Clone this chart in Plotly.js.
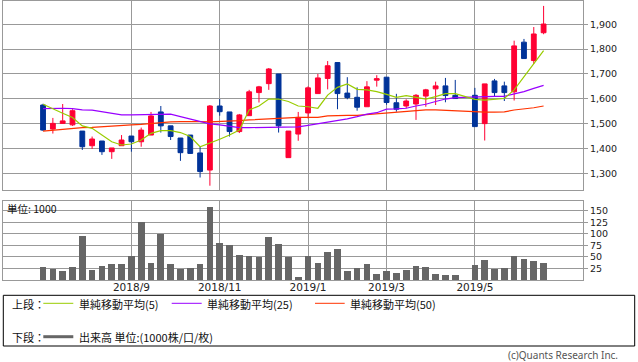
<!DOCTYPE html>
<html>
<head>
<meta charset="utf-8">
<script src="https://cdn.plot.ly/plotly-3.0.1.min.js"></script>
<style>html,body{margin:0;padding:0;background:#fff;}#chart{width:638px;height:362px;}</style>
</head>
<body>
<div id="chart"></div>
<script>
// Weekly dates (week of Apr 29, 2019 had no trading)
const weeks = [
 "2018-07-02","2018-07-09","2018-07-16","2018-07-23","2018-07-30","2018-08-06","2018-08-13","2018-08-20","2018-08-27",
 "2018-09-03","2018-09-10","2018-09-17","2018-09-24","2018-10-01","2018-10-08","2018-10-15","2018-10-22","2018-10-29",
 "2018-11-05","2018-11-12","2018-11-19","2018-11-26","2018-12-03","2018-12-10","2018-12-17","2018-12-24","2018-12-31",
 "2019-01-07","2019-01-14","2019-01-21","2019-01-28","2019-02-04","2019-02-11","2019-02-18","2019-02-25",
 "2019-03-04","2019-03-11","2019-03-18","2019-03-25","2019-04-01","2019-04-08","2019-04-15","2019-04-22",
 "2019-05-06","2019-05-13","2019-05-20","2019-05-27","2019-06-03","2019-06-10","2019-06-17","2019-06-24"
];
const openP  = [1575,1478,1501,1495,1470,1411,1430,1387,1411,1450,1427,1454,1547,1491,1442,1454,1382,1313,1571,1547,1468,1532,1625,1661,1700,1363,1458,1543,1621,1682,1746,1623,1606,1568,1675,1687,1584,1571,1579,1611,1640,1652,1614,1614,1500,1672,1652,1628,1828,1754,1866];
const highP  = [1580,1523,1579,1558,1470,1448,1430,1402,1454,1450,1484,1547,1571,1491,1442,1454,1407,1575,1599,1547,1539,1636,1652,1724,1700,1470,1547,1650,1700,1752,1746,1687,1646,1671,1695,1687,1620,1598,1619,1640,1669,1684,1676,1644,1660,1680,1669,1834,1841,1889,1974];
const lowP   = [1470,1460,1500,1491,1394,1398,1374,1358,1411,1387,1407,1454,1464,1434,1350,1378,1283,1250,1532,1448,1462,1532,1585,1636,1464,1363,1431,1521,1621,1638,1558,1598,1552,1568,1649,1576,1548,1562,1515,1568,1575,1586,1601,1488,1432,1611,1591,1593,1762,1740,1860];
const closeP = [1474,1501,1511,1552,1407,1438,1387,1402,1434,1427,1474,1531,1491,1448,1383,1380,1307,1571,1548,1468,1535,1628,1648,1720,1491,1470,1525,1644,1684,1733,1621,1605,1566,1648,1681,1585,1558,1591,1614,1636,1652,1613,1601,1488,1660,1625,1625,1813,1762,1861,1901];
const ma5  = [1578,1559,1542,1525,1491,1481,1454,1427,1414,1418,1434,1461,1472,1472,1464,1448,1407,1421,1437,1454,1474,1555,1571,1599,1599,1589,1571,1568,1562,1615,1646,1660,1638,1636,1629,1618,1606,1613,1605,1599,1609,1621,1621,1598,1595,1599,1601,1636,1689,1743,1794];
const ma25 = [1560,1562,1562,1560,1555,1554,1547,1542,1535,1535,1535,1538,1538,1538,1528,1519,1508,1499,1495,1488,1484,1484,1484,1487,1487,1487,1487,1493,1499,1507,1512,1519,1528,1538,1544,1558,1559,1562,1571,1578,1589,1599,1605,1609,1609,1610,1610,1618,1629,1642,1654];
const ma50 = [1470,1474,1477,1481,1484,1485,1488,1491,1493,1495,1497,1501,1504,1507,1508,1509,1508,1507,1508,1509,1512,1515,1517,1521,1523,1524,1525,1525,1525,1531,1533,1533,1533,1536,1540,1544,1545,1549,1553,1555,1555,1553,1549,1546,1546,1546,1547,1555,1559,1564,1571];
const volume = [28,24,20,28,96,22,30,35,35,52,126,37,99,35,24,26,35,159,80,76,54,52,50,93,78,50,7,52,37,61,67,20,26,35,13,20,15,22,30,28,13,11,11,33,43,24,26,52,46,41,37];
const tickWeeks = ["2018-09-03","2018-11-05","2019-01-07","2019-03-04","2019-05-06"];
const tickText  = ["2018/9","2018/11","2019/1","2019/3","2019/5"];
const priceTicks = [1300,1400,1500,1600,1700,1800,1900];
const volTicks = [25,50,75,100,125,150];

const W = 638, H = 362, ML = 3, MR = 55, MT = 1, MB = 82;
const PW = W - ML - MR, PH = H - MT - MB;
const X = px => (px - ML) / PW;
const Y = py => (H - MB - py) / PH;

const GRID = '#999999';
const RED = '#ff0033', BLUE = '#003399';
const C5 = '#99cc00', C25 = '#9900ff', C50 = '#ff3300', CV = '#666666';
const xRange = ['2018-06-03 10:30', '2019-07-22 02:30'];

const traces = [
  {type:'candlestick', x:weeks, open:openP, high:highP, low:lowP, close:closeP,
   xaxis:'x2', yaxis:'y', whiskerwidth:0,
   increasing:{line:{color:RED,width:1}, fillcolor:RED},
   decreasing:{line:{color:BLUE,width:1}, fillcolor:BLUE},
   showlegend:false, hoverinfo:'skip'},
  {type:'scatter', mode:'lines', x:weeks, y:ma50, xaxis:'x2', yaxis:'y', line:{color:C50,width:1.2}, showlegend:false, hoverinfo:'skip'},
  {type:'scatter', mode:'lines', x:weeks, y:ma25, xaxis:'x2', yaxis:'y', line:{color:C25,width:1.2}, showlegend:false, hoverinfo:'skip'},
  {type:'scatter', mode:'lines', x:weeks, y:ma5, xaxis:'x2', yaxis:'y', line:{color:C5,width:1.2}, showlegend:false, hoverinfo:'skip'},
  {type:'bar', x:weeks, y:volume, xaxis:'x', yaxis:'y2', marker:{color:CV, line:{width:0}},
   width: 7*24*3600*1000*0.68, showlegend:false, hoverinfo:'skip'}
];

const yTop = 190.3, vTop = 201;
const axisCommon = {showline:true, mirror:true, linecolor:GRID, linewidth:1, gridcolor:GRID, gridwidth:1, zeroline:false, fixedrange:true};
const tickFont = {family:'DejaVu Sans', size:9.5, color:'#222'};

const layout = {
  width:W, height:H, margin:{l:ML, r:MR, t:MT, b:MB},
  paper_bgcolor:'#fff', plot_bgcolor:'#fff', showlegend:false, bargap:0,
  xaxis: Object.assign({}, axisCommon, {type:'date', range:xRange, anchor:'y2',
    tickvals:tickWeeks, ticktext:tickText, ticks:'', tickfont:{family:'DejaVu Sans', size:10.5, color:'#222'}, ticklabelstandoff:-3}),
  xaxis2: Object.assign({}, axisCommon, {type:'date', range:xRange, anchor:'y', matches:'x',
    tickvals:tickWeeks, showticklabels:false, ticks:'', rangeslider:{visible:false}}),
  yaxis: Object.assign({}, axisCommon, {domain:[Y(yTop), 1], range:[1231.5, 1993.8], side:'right',
    tickvals:priceTicks, tickformat:',d', ticks:'outside', ticklen:4, tickcolor:GRID, tickfont:tickFont, anchor:'x2'}),
  yaxis2: Object.assign({}, axisCommon, {domain:[0, Y(vTop)], range:[0, 171.7], side:'right',
    tickvals:volTicks, ticks:'outside', ticklen:4, tickcolor:GRID, tickfont:tickFont, anchor:'x'}),
  shapes: [
    {type:'rect', xref:'paper', yref:'paper', x0:X(3.3), x1:X(634.7), y0:Y(295.3), y1:Y(346), line:{color:'#000',width:1}, fillcolor:'rgba(0,0,0,0)'},
    {type:'line', xref:'paper', yref:'paper', x0:X(43.3), x1:X(73.3), y0:Y(303.3), y1:Y(303.3), line:{color:C5,width:1}},
    {type:'line', xref:'paper', yref:'paper', x0:X(171.7), x1:X(201.7), y0:Y(303.3), y1:Y(303.3), line:{color:C25,width:1}},
    {type:'line', xref:'paper', yref:'paper', x0:X(315), x1:X(344.7), y0:Y(303.3), y1:Y(303.3), line:{color:C50,width:1}},
    {type:'line', xref:'paper', yref:'paper', x0:X(43.3), x1:X(73.3), y0:Y(336.7), y1:Y(336.7), line:{color:CV,width:3}}
  ],
  annotations: []
};

const jp = {family:'Noto Sans CJK JP', size:11, color:'#111'};
function ann(text, px, py, font, xanchor){
  layout.annotations.push({text:text, xref:'paper', yref:'paper', x:X(px), y:Y(py),
    xanchor:xanchor||'left', yanchor:'middle', showarrow:false, font:font, borderpad:0});
}
ann('上段：', 10.5, 303.8, jp);
ann('単純移動平均(5)', 77.5, 303.8, jp);
ann('単純移動平均(25)', 205.5, 303.8, jp);
ann('単純移動平均(50)', 349, 303.8, jp);
ann('下段：', 10.5, 336.7, jp);
ann('出来高 単位:(1000株/口/枚)', 77.5, 336.7, jp);
ann('単位: 1000', 5.5, 209, {family:'Noto Sans CJK JP', size:10.5, color:'#111'});
ann('(c)Quants Research Inc.', 619, 355, {family:'Noto Sans', size:10, color:'#555'}, 'right');

Plotly.newPlot('chart', traces, layout, {staticPlot:true, displayModeBar:false});
</script>
</body>
</html>
